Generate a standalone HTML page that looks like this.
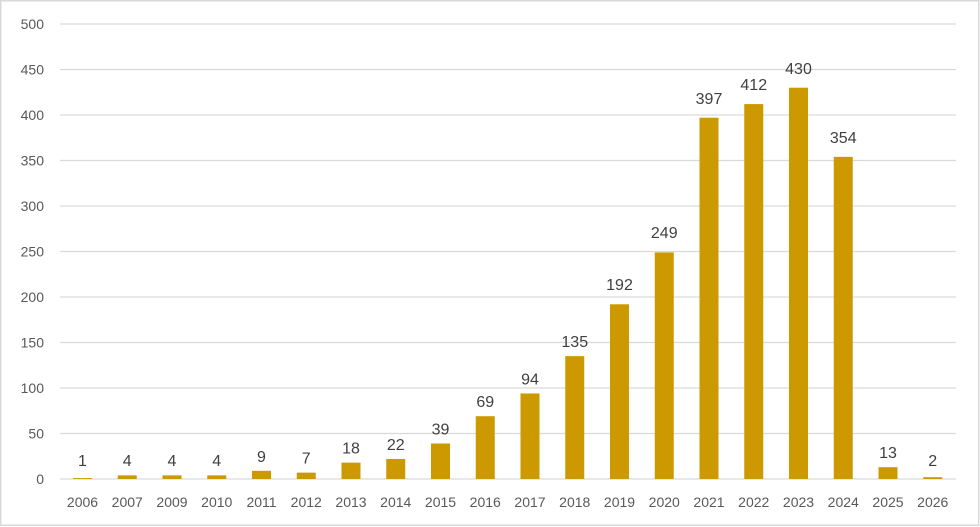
<!DOCTYPE html>
<html><head><style>
body{margin:0;background:#fff;}
svg{display:block;font-family:"Liberation Sans",Calibri,sans-serif;}
</style></head><body>
<svg width="980" height="527" viewBox="0 0 980 527" xmlns="http://www.w3.org/2000/svg">
<rect x="0.75" y="0.75" width="978" height="524.5" fill="#fff" stroke="#d9d9d9" stroke-width="1.5"/>
<g stroke="#d9d9d9" stroke-width="1.3">
<line x1="60" x2="956" y1="24" y2="24"/><line x1="60" x2="956" y1="69.5" y2="69.5"/>
<line x1="60" x2="956" y1="115" y2="115"/><line x1="60" x2="956" y1="160.5" y2="160.5"/>
<line x1="60" x2="956" y1="206" y2="206"/><line x1="60" x2="956" y1="251.5" y2="251.5"/>
<line x1="60" x2="956" y1="297" y2="297"/><line x1="60" x2="956" y1="342.5" y2="342.5"/>
<line x1="60" x2="956" y1="388" y2="388"/><line x1="60" x2="956" y1="433.5" y2="433.5"/>
<line x1="60" x2="956" y1="479" y2="479"/>
</g>
<g fill="#595959" font-size="14" text-anchor="end">
<text x="44" y="29">500</text><text x="44" y="74.5">450</text><text x="44" y="120">400</text>
<text x="44" y="165.5">350</text><text x="44" y="211">300</text><text x="44" y="256.5">250</text>
<text x="44" y="302">200</text><text x="44" y="347.5">150</text><text x="44" y="393">100</text>
<text x="44" y="438.5">50</text><text x="44" y="484">0</text>
</g>
<g fill="#cc9900">
<rect x="73" y="478.09" width="19" height="0.91"/>
<rect x="117.75" y="475.36" width="19" height="3.64"/>
<rect x="162.5" y="475.36" width="19" height="3.64"/>
<rect x="207.25" y="475.36" width="19" height="3.64"/>
<rect x="252" y="470.81" width="19" height="8.19"/>
<rect x="296.75" y="472.63" width="19" height="6.37"/>
<rect x="341.5" y="462.62" width="19" height="16.38"/>
<rect x="386.25" y="458.98" width="19" height="20.02"/>
<rect x="431" y="443.51" width="19" height="35.49"/>
<rect x="475.75" y="416.21" width="19" height="62.79"/>
<rect x="520.5" y="393.46" width="19" height="85.54"/>
<rect x="565.25" y="356.15" width="19" height="122.85"/>
<rect x="610" y="304.28" width="19" height="174.72"/>
<rect x="654.75" y="252.41" width="19" height="226.59"/>
<rect x="699.5" y="117.73" width="19" height="361.27"/>
<rect x="744.25" y="104.08" width="19" height="374.92"/>
<rect x="789" y="87.7" width="19" height="391.3"/>
<rect x="833.75" y="156.86" width="19" height="322.14"/>
<rect x="878.5" y="467.17" width="19" height="11.83"/>
<rect x="923.25" y="477.18" width="19" height="1.82"/>
</g>
<g fill="#404040" font-size="16" text-anchor="middle">
<text x="82.5" y="466">1</text>
<text x="127.25" y="466">4</text>
<text x="172" y="466">4</text>
<text x="216.75" y="466">4</text>
<text x="261.5" y="461.8">9</text>
<text x="306.25" y="463.6">7</text>
<text x="351" y="453.6">18</text>
<text x="395.75" y="450">22</text>
<text x="440.5" y="434.5">39</text>
<text x="485.25" y="407.2">69</text>
<text x="530" y="384.5">94</text>
<text x="574.75" y="347.2">135</text>
<text x="619.5" y="290">192</text>
<text x="664.25" y="238">249</text>
<text x="709" y="104">397</text>
<text x="753.75" y="90">412</text>
<text x="798.5" y="74">430</text>
<text x="843.25" y="143">354</text>
<text x="888" y="458.2">13</text>
<text x="932.75" y="466">2</text>
</g>
<g fill="#595959" font-size="14" text-anchor="middle">
<text x="82.5" y="507">2006</text><text x="127.25" y="507">2007</text><text x="172" y="507">2009</text>
<text x="216.75" y="507">2010</text><text x="261.5" y="507">2011</text><text x="306.25" y="507">2012</text>
<text x="351" y="507">2013</text><text x="395.75" y="507">2014</text><text x="440.5" y="507">2015</text>
<text x="485.25" y="507">2016</text><text x="530" y="507">2017</text><text x="574.75" y="507">2018</text>
<text x="619.5" y="507">2019</text><text x="664.25" y="507">2020</text><text x="709" y="507">2021</text>
<text x="753.75" y="507">2022</text><text x="798.5" y="507">2023</text><text x="843.25" y="507">2024</text>
<text x="888" y="507">2025</text><text x="932.75" y="507">2026</text>
</g>
</svg>
</body></html>
